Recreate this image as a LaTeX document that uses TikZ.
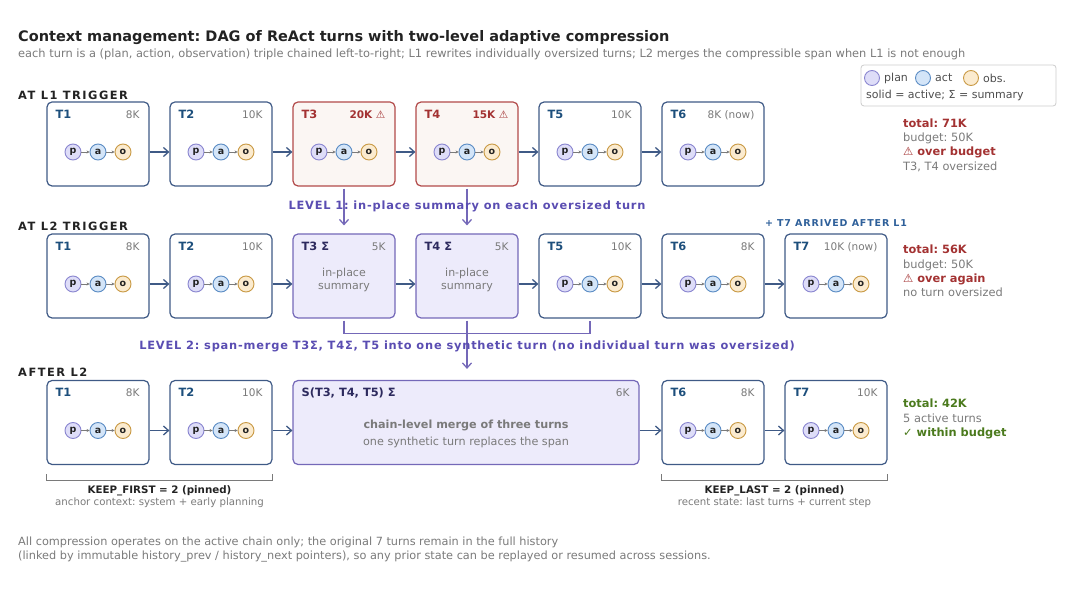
\documentclass[tikz,border=0pt]{standalone}
\usepackage{fontspec}
\setmainfont{DejaVu Sans}
\newfontfamily\espaciada[LetterSpace=13]{DejaVu Sans}
\newfontfamily\nivelfont[LetterSpace=7]{DejaVu Sans}
\newfontfamily\pocafont[LetterSpace=9]{DejaVu Sans}
\usepackage{tikz}
\usetikzlibrary{positioning,arrows.meta,calc}
\frenchspacing
\definecolor{cnavy}{HTML}{3F5A86}
\definecolor{cazul}{HTML}{1D4F7C}
\definecolor{cazulm}{HTML}{2F609A}
\definecolor{cgris}{HTML}{7A7A7A}
\definecolor{ctexto}{HTML}{222222}
\definecolor{crojo}{HTML}{A33232}
\definecolor{crojob}{HTML}{B24A4A}
\definecolor{crojof}{HTML}{FBF6F3}
\definecolor{cmorado}{HTML}{5A4DB2}
\definecolor{cmoradob}{HTML}{7468B8}
\definecolor{cmoradof}{HTML}{EDEBFB}
\definecolor{cmoradoo}{HTML}{2D2A5E}
\definecolor{cverde}{HTML}{4B7A1D}
\definecolor{cplan}{HTML}{DEDDF8}
\definecolor{cplanb}{HTML}{8A86D0}
\definecolor{cact}{HTML}{D4E5F8}
\definecolor{cactb}{HTML}{5B8CC4}
\definecolor{cobs}{HTML}{FBEBCF}
\definecolor{cobsb}{HTML}{C99A45}
\newcommand{\tam}[1]{\fontsize{#1}{#1}\selectfont}
\tikzset{
  turn/.style={rectangle, rounded corners=5pt, draw=cnavy, fill=white,
    line width=1.2pt, minimum width=102pt, minimum height=84pt, inner sep=0pt},
  turnx/.style={turn, draw=crojob, fill=crojof},
  turns/.style={turn, draw=cmoradob, fill=cmoradof},
  tid/.style={font=\bfseries\tam{11.4}, text=cazul, anchor=base west, inner sep=0pt},
  tk/.style={font=\tam{10.5}, text=cgris, anchor=base east, inner sep=0pt},
  bola/.style={circle, minimum size=16pt, inner sep=0pt, line width=0.9pt,
    font=\bfseries\tam{9.5}, text=ctexto},
  bolap/.style={bola, draw=cplanb, fill=cplan},
  bolaa/.style={bola, draw=cactb, fill=cact},
  bolao/.style={bola, draw=cobsb, fill=cobs},
  enlace/.style={-{Stealth[length=3pt,width=3pt]}, draw=cgris, line width=0.7pt},
  flecha/.style={-{Straight Barb[length=5pt,width=9pt]}, draw=cnavy, line width=1.3pt},
  nivel/.style={-{Straight Barb[length=5pt,width=9pt]}, draw=cmoradob, line width=1.3pt},
  llave/.style={draw=cgris, line width=1pt},
  fila/.style={font=\espaciada\bfseries\tam{11.4}, text=ctexto, anchor=west, inner sep=0pt},
  nivelt/.style={font=\nivelfont\bfseries\tam{11.4}, text=cmorado, inner sep=0pt},
  resumen/.style={font=\tam{11}, text=cgris, align=center, inner sep=0pt},
  stats/.style={font=\tam{11.4}, text=cgris, align=left, anchor=west, inner sep=0pt},
  leg/.style={font=\tam{11}, text=ctexto!80, anchor=west, inner sep=0pt},
}
\newcommand{\pao}[1]{%
  \node[bolap] (#1p) at ($(#1.center)+(-25,8)$) {p};
  \node[bolaa] (#1a) at ($(#1.center)+(0,8)$) {a};
  \node[bolao] (#1o) at ($(#1.center)+(25,8)$) {o};
  \draw[enlace] (#1p) -- (#1a);
  \draw[enlace] (#1a) -- (#1o);
}
\newcommand{\cab}[3]{%
  \node[tid] (#1id) at ($(#1.north west)+(9,17)$) {#2};
  \node[tk] (#1k) at ($(#1.north east)+(-10,17)$) {#3};
}
\begin{document}
\begin{tikzpicture}[x=1pt, y=-1pt]
  \useasboundingbox (0,0) rectangle (1080,593);
  % titulo
  \node[anchor=west, inner sep=0pt, font=\bfseries\tam{14.5}, text=ctexto] (tit) at (18,38)
    {Context management: DAG of ReAct turns with two-level adaptive compression};
  \node[anchor=west, inner sep=0pt, font=\tam{11.4}, text=cgris] (subt) at (18,54)
    {each turn is a (plan, action, observation) triple chained left-to-right; L1 rewrites individually oversized turns; L2 merges the compressible span when L1 is not enough};
  % leyenda
  \node[rectangle, rounded corners=3pt, draw=black!20, fill=white, line width=0.8pt,
    minimum width=195pt, minimum height=41pt] (ley) at (958.5,85.5) {};
  \node[bolap, minimum size=15pt] (lp) at (872,78) {};
  \node[leg] (lpt) at (884,78) {plan};
  \node[bolaa, minimum size=15pt] (la) at (923,78) {};
  \node[leg] (lat) at (935,78) {act};
  \node[bolao, minimum size=15pt] (lo) at (971,78) {};
  \node[leg] (lot) at (983,78) {obs.};
  \node[leg] (lsol) at (866,95) {solid = active; Σ = summary};

  % fila 1
  \node[fila] (f1) at (18,95) {AT L1 TRIGGER};
  \node[turn] (a1) at (98,144) {};
  \node[turn] (a2) at (221,144) {};
  \node[turnx] (a3) at (344,144) {};
  \node[turnx] (a4) at (467,144) {};
  \node[turn] (a5) at (590,144) {};
  \node[turn] (a6) at (713,144) {};
  \cab{a1}{T1}{8K}
  \cab{a2}{T2}{10K}
  \node[tid, text=crojo] (a3id) at ($(a3.north west)+(9,17)$) {T3};
  \node[tk, text=crojo, font=\bfseries\tam{10.5}] (a3k) at ($(a3.north east)+(-10,17)$) {20K ⚠};
  \node[tid, text=crojo] (a4id) at ($(a4.north west)+(9,17)$) {T4};
  \node[tk, text=crojo, font=\bfseries\tam{10.5}] (a4k) at ($(a4.north east)+(-10,17)$) {15K ⚠};
  \cab{a5}{T5}{10K}
  \cab{a6}{T6}{8K (now)}
  \foreach \t in {a1,a2,a3,a4,a5,a6} {\pao{\t}}
  \foreach \i/\j in {a1/a2,a2/a3,a3/a4,a4/a5,a5/a6}
    \draw[flecha] ([yshift=-8pt]\i.east) -- ([yshift=-8pt]\j.west);
  \node[stats] (s1) at (903,145) {{\bfseries\color{crojo}total: 71K}\\[3pt]
    budget: 50K\\[3pt]{\bfseries\color{crojo}⚠ over budget}\\[3pt]T3, T4 oversized};

  % fila 2
  \node[fila] (f2) at (18,226) {AT L2 TRIGGER};
  \node[turn] (b1) at (98,276) {};
  \node[turn] (b2) at (221,276) {};
  \node[turns] (b3) at (344,276) {};
  \node[turns] (b4) at (467,276) {};
  \node[turn] (b5) at (590,276) {};
  \node[turn] (b6) at (713,276) {};
  \node[turn] (b7) at (836,276) {};
  \cab{b1}{T1}{8K}
  \cab{b2}{T2}{10K}
  \node[tid, text=cmoradoo] (b3id) at ($(b3.north west)+(9,17)$) {T3 Σ};
  \node[tk] (b3k) at ($(b3.north east)+(-10,17)$) {5K};
  \node[tid, text=cmoradoo] (b4id) at ($(b4.north west)+(9,17)$) {T4 Σ};
  \node[tk] (b4k) at ($(b4.north east)+(-10,17)$) {5K};
  \node[resumen] (b3t) at ($(b3.center)+(0,4)$) {in-place\\[2pt]summary};
  \node[resumen] (b4t) at ($(b4.center)+(0,4)$) {in-place\\[2pt]summary};
  \cab{b5}{T5}{10K}
  \cab{b6}{T6}{8K}
  \cab{b7}{T7}{10K (now)}
  \foreach \t in {b1,b2,b5,b6,b7} {\pao{\t}}
  \foreach \i/\j in {b1/b2,b2/b3,b3/b4,b4/b5,b5/b6,b6/b7}
    \draw[flecha] ([yshift=-8pt]\i.east) -- ([yshift=-8pt]\j.west);
  \node[font=\pocafont\bfseries\tam{9.5}, text=cazulm, inner sep=0pt] (t7n)
    at ($(b7.north)+(0,-10)$) {+ T7 ARRIVED AFTER L1};
  \node[stats] (s2) at (903,271) {{\bfseries\color{crojo}total: 56K}\\[3pt]
    budget: 50K\\[3pt]{\bfseries\color{crojo}⚠ over again}\\[3pt]no turn oversized};

  % nivel 1
  \draw[nivel, shorten <=2pt, shorten >=8pt] (a3.south) -- (b3.north);
  \draw[nivel, shorten <=2pt, shorten >=8pt] (a4.south) -- (b4.north);
  \node[nivelt] (n1) at (467,206) {LEVEL 1: in-place summary on each oversized turn};

  % fila 3
  \node[fila] (f3) at (18,372) {AFTER L2};
  \node[turn] (c1) at (98,422.5) {};
  \node[turn] (c2) at (221,422.5) {};
  \node[turns, minimum width=346pt] (c3) at (466,422.5) {};
  \node[turn] (c4) at (713,422.5) {};
  \node[turn] (c5) at (836,422.5) {};
  \cab{c1}{T1}{8K}
  \cab{c2}{T2}{10K}
  \node[tid, text=cmoradoo] (c3id) at ($(c3.north west)+(9,17)$) {S(T3, T4, T5) Σ};
  \node[tk] (c3k) at ($(c3.north east)+(-10,17)$) {6K};
  \node[resumen, font=\tam{11.2}] (c3t) at ($(c3.center)+(0,11.5)$)
    {{\bfseries chain-level merge of three turns}\\[5pt]one synthetic turn replaces the span};
  \cab{c4}{T6}{8K}
  \cab{c5}{T7}{10K}
  \foreach \t in {c1,c2,c4,c5} {\pao{\t}}
  \foreach \i/\j in {c1/c2,c2/c3,c3/c4,c4/c5}
    \draw[flecha] ([yshift=-8pt]\i.east) -- ([yshift=-8pt]\j.west);
  \node[stats] (s3) at (903,419) {{\bfseries\color{cverde}total: 42K}\\[3pt]
    5 active turns\\[3pt]{\bfseries\color{cverde}✓ within budget}};

  % nivel 2
  \draw[draw=cmoradob, line width=1.3pt] ([yshift=-2pt]b3.south) -- ++(0,13)
    -| ([yshift=-2pt]b5.south);
  \draw[nivel, shorten <=2pt, shorten >=11pt] (b4.south) -- (b4.south |- c3.north);
  \node[nivelt] (n2) at (467,346)
    {LEVEL 2: span-merge T3Σ, T4Σ, T5 into one synthetic turn (no individual turn was oversized)};

  % keep first / keep last
  \draw[llave] ($(c1.south west)+(0,9)$) -- ++(0,6) -| ($(c2.south east)+(0,9)$);
  \node[font=\bfseries\tam{10.3}, text=ctexto, inner sep=0pt] (kf)
    at ($(c1.south west)!0.5!(c2.south east)+(0,26)$) {KEEP\_FIRST = 2 (pinned)};
  \node[font=\tam{10.2}, text=cgris, inner sep=0pt] (kft)
    at ($(c1.south west)!0.5!(c2.south east)+(0,38)$) {anchor context: system + early planning};
  \draw[llave] ($(c4.south west)+(0,9)$) -- ++(0,6) -| ($(c5.south east)+(0,9)$);
  \node[font=\bfseries\tam{10.3}, text=ctexto, inner sep=0pt] (kl)
    at ($(c4.south west)!0.5!(c5.south east)+(0,26)$) {KEEP\_LAST = 2 (pinned)};
  \node[font=\tam{10.2}, text=cgris, inner sep=0pt] (klt)
    at ($(c4.south west)!0.5!(c5.south east)+(0,38)$) {recent state: last turns + current step};

  % nota
  \node[anchor=north west, align=left, inner sep=0pt, font=\fontsize{11.3}{14}\selectfont, text=cgris] (nota)
    at (18,537) {All compression operates on the active chain only; the original 7 turns remain in the full history\\
    (linked by immutable history\_prev / history\_next pointers), so any prior state can be replayed or resumed across sessions.};
\end{tikzpicture}
\end{document}
